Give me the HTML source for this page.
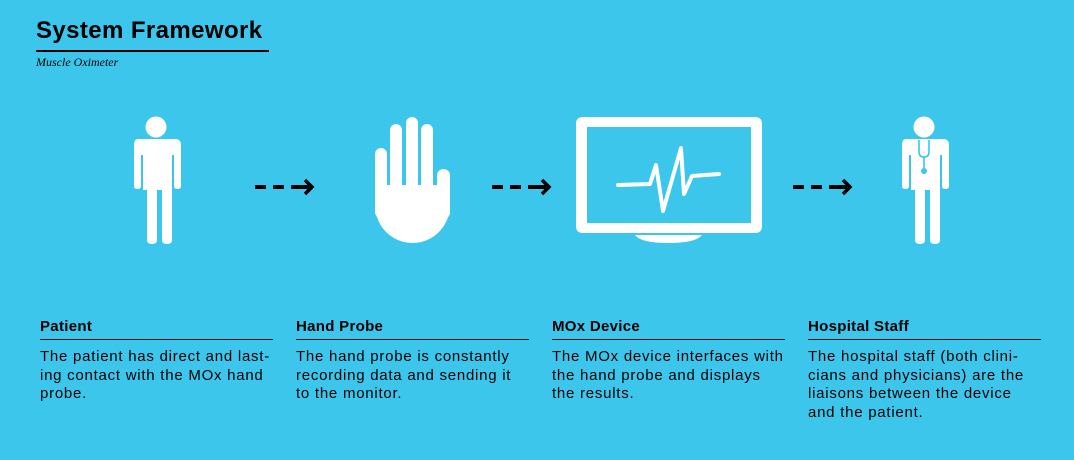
<!DOCTYPE html>
<html><head><style>
body{margin:0;width:1074px;height:460px;background:#3cc6ec;position:relative;overflow:hidden;font-family:"Liberation Sans",sans-serif;color:#000}
.t{position:absolute;left:36px;top:17px;font-size:24px;font-weight:bold;letter-spacing:0.4px}
.tl{position:absolute;left:36px;top:50px;width:233px;height:1.5px;background:#000}
.st{position:absolute;left:36px;top:55px;font-family:"Liberation Serif",serif;font-style:italic;font-size:12px}
.col{position:absolute;top:318px;width:233px}
.col h{display:block;font-weight:bold;font-size:15px;height:21px;border-bottom:1.5px solid #000;letter-spacing:0.3px}
.col p{margin:8px 0 0;font-size:15px;line-height:18.5px;letter-spacing:0.75px;white-space:nowrap}
</style></head><body>
<div class="t">System Framework</div><div class="tl"></div>
<div class="st">Muscle Oximeter</div>
<svg width="1074" height="460" style="position:absolute;left:0;top:0">
<g fill="#fff">
<circle cx="156" cy="127" r="10.5"/>
<path d="M138 139 H175 Q181 139 181 145 V186 Q181 189 177.5 189 Q174 189 174 186 V155 H172 V240 Q172 244 167 244 Q162 244 162 240 V190 H157 V240 Q157 244 152 244 Q147 244 147 240 V190 H143 V155 H141 V186 Q141 189 137.5 189 Q134 189 134 186 V145 Q134 139 138 139Z"/>
<rect x="375" y="148" width="12" height="70" rx="6"/>
<rect x="390" y="124" width="12" height="90" rx="6"/>
<rect x="406" y="117" width="12" height="90" rx="6"/>
<rect x="421" y="124" width="12" height="90" rx="6"/>
<rect x="437" y="169" width="13" height="50" rx="6.5"/>
<path d="M375 185 H450 V205 A37.5 38 0 0 1 375 205Z"/>
<path fill-rule="evenodd" d="M583 117 H755 Q762 117 762 124 V226 Q762 233 755 233 H583 Q576 233 576 226 V124 Q576 117 583 117Z M587 127 V223 H751 V127Z"/>
<path d="M635 235 H702 Q696 243 668 243 Q641 243 635 235Z"/>
<circle cx="924" cy="127" r="10.5"/>
<path d="M906 139 H943 Q949 139 949 145 V186 Q949 189 945.5 189 Q942 189 942 186 V155 H940 V240 Q940 244 935 244 Q930 244 930 240 V190 H925 V240 Q925 244 920 244 Q915 244 915 240 V190 H911 V155 H909 V186 Q909 189 905.5 189 Q902 189 902 186 V145 Q902 139 906 139Z"/>
</g>
<path d="M919 140 V152 Q919 157 924 157 Q929 157 929 152 V140 M924 157 V168" stroke="#3cc6ec" stroke-width="1.6" fill="none"/>
<circle cx="924" cy="171" r="3" fill="#3cc6ec"/>
<polyline points="618,185 650,184 656,165 663,211 681,148 684,194 692,176 719,174" fill="none" stroke="#fff" stroke-width="4" stroke-linecap="round" stroke-linejoin="round"/>
<g stroke="#000" stroke-width="4" fill="none">
<path d="M255 187 H266 M273 187 H284 M291 187 H309"/>
<path d="M305 180 L312 187 L305 194" stroke-width="3.5"/>
<path d="M492 187 H503 M510 187 H521 M528 187 H546"/>
<path d="M542 180 L549 187 L542 194" stroke-width="3.5"/>
<path d="M793 187 H804 M811 187 H822 M829 187 H847"/>
<path d="M843 180 L850 187 L843 194" stroke-width="3.5"/>
</g>
</svg>
<div class="col" style="left:40px"><h>Patient</h><p>The patient has direct and last-<br>ing contact with the MOx hand<br>probe.</p></div>
<div class="col" style="left:296px"><h>Hand Probe</h><p>The hand probe is constantly<br>recording data and sending it<br>to the monitor.</p></div>
<div class="col" style="left:552px"><h>MOx Device</h><p>The MOx device interfaces with<br>the hand probe and displays<br>the results.</p></div>
<div class="col" style="left:808px"><h>Hospital Staff</h><p>The hospital staff (both clini-<br>cians and physicians) are the<br>liaisons between the device<br>and the patient.</p></div>
</body></html>
